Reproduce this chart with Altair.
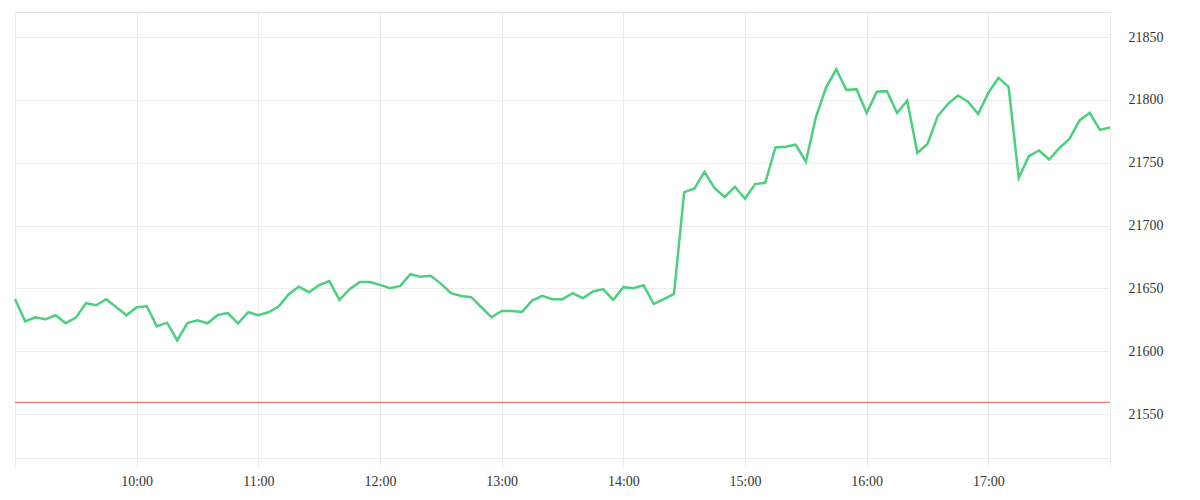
import altair as alt
import pandas as pd

# prices every 5 minutes from 09:00 to 18:00
prices = [
    21641.6, 21623.8, 21627.0, 21625.4, 21628.6, 21622.2, 21626.7, 21638.2, 21636.6, 21641.4,
    21635.0, 21628.6, 21635.0, 21635.8, 21619.8, 21622.7, 21608.6, 21622.4, 21624.6, 21622.2,
    21628.8, 21630.4, 21622.2, 21631.0, 21628.6, 21631.0, 21635.5, 21645.4, 21651.4, 21647.0,
    21652.6, 21655.8, 21640.8, 21649.4, 21655.0, 21655.0, 21652.8, 21650.2, 21652.0, 21661.3,
    21659.2, 21660.0, 21653.8, 21646.2, 21644.0, 21643.0, 21635.0, 21627.0, 21632.0, 21632.0,
    21631.2, 21640.3, 21644.0, 21641.4, 21641.4, 21646.2, 21642.2, 21647.5, 21649.4, 21640.8,
    21651.0, 21650.2, 21652.6, 21637.6, 21641.4, 21645.6, 21726.6, 21729.3, 21742.8, 21729.7,
    21722.8, 21730.9, 21721.4, 21733.0, 21734.0, 21762.2, 21762.8, 21764.4, 21750.8, 21786.5,
    21810.0, 21824.4, 21808.0, 21808.6, 21789.6, 21806.6, 21807.0, 21789.6, 21799.4, 21757.8,
    21765.0, 21787.0, 21796.7, 21803.5, 21798.6, 21788.8, 21805.6, 21817.6, 21810.4, 21738.0,
    21755.3, 21759.8, 21752.6, 21761.6, 21769.0, 21783.7, 21789.8, 21776.2, 21778.0,
]
start_minute = 9 * 60
step_minutes = 5
minutes = [start_minute + i * step_minutes for i in range(len(prices))]
reference_price = 21559.3
hour_ticks = [540, 600, 660, 720, 780, 840, 900, 960, 1020, 1080]
y_ticks = [21550, 21600, 21650, 21700, 21750, 21800, 21850]

df = pd.DataFrame({"minute": minutes, "price": prices})
ref = pd.DataFrame({"ref": [reference_price]})

FONT = "Times New Roman, Liberation Serif, DejaVu Serif, serif"
GRID = "#ececec"

x_enc = alt.X(
    "minute:Q",
    scale=alt.Scale(domain=[540, 1080], nice=False, zero=False),
    axis=alt.Axis(
        values=hour_ticks,
        labelExpr="(datum.value == 540 || datum.value == 1080) ? '' : floor(datum.value/60) + ':00'",
        grid=True, gridColor=GRID, tickColor=GRID, tickSize=10,
        domain=True, domainColor=GRID,
        labelFont=FONT, labelFontSize=14, labelColor="#333333", labelPadding=6,
        title=None,
    ),
)

y_scale = alt.Scale(domain=[21515, 21870], nice=False, zero=False)
y_axis = alt.Axis(
    orient="right", values=y_ticks, grid=True, gridColor=GRID, format="d",
    ticks=False, domain=False, labelPadding=18,
    labelFont=FONT, labelFontSize=14, labelColor="#333333", title=None,
)

line = alt.Chart(df).mark_line(color="#4cd07d", strokeWidth=2.5).encode(
    x=x_enc,
    y=alt.Y("price:Q", scale=y_scale, axis=y_axis),
)

rule = alt.Chart(ref).mark_rule(color="#f25c5c", strokeWidth=1).encode(
    y=alt.Y("ref:Q", scale=y_scale),
)

chart = (
    alt.layer(rule, line)
    .properties(width=1095, height=446, padding={"left": 2, "top": 4, "right": 5, "bottom": 5})
    .configure_view(stroke=None)
    .configure(background="white", font=FONT)
)

chart.save("out.html", embed_options={"renderer": "svg", "actions": False})
